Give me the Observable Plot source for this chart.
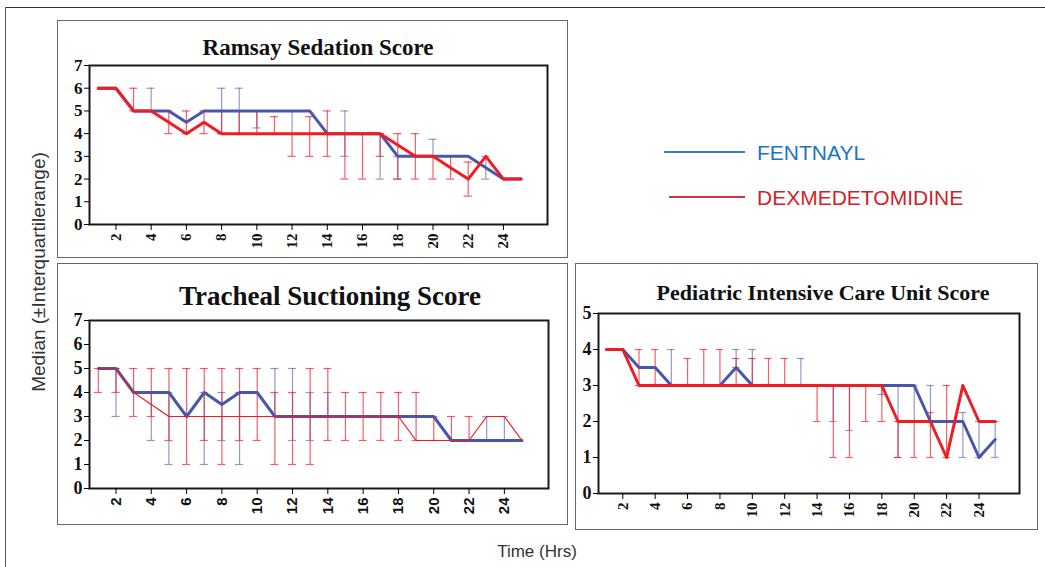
<!DOCTYPE html>
<html>
<head>
<meta charset="utf-8">
<script src="https://cdn.jsdelivr.net/npm/d3@7"></script>
<script src="https://cdn.jsdelivr.net/npm/@observablehq/plot@0.6"></script>
<style>
  html, body { margin: 0; padding: 0; background: #fff; }
  #root { position: relative; width: 1045px; height: 567px; overflow: hidden; background: #fff; }
  .abs { position: absolute; }
  .box { position: absolute; border: 1px solid #666; box-sizing: border-box; }
  .title { position: absolute; font-family: "Liberation Serif", "Times New Roman", serif; font-weight: bold; color: #111; white-space: nowrap; transform: translate(-50%,-50%); line-height: 1; }
  .lbl { position: absolute; font-family: "Liberation Sans", Arial, sans-serif; color: #333; white-space: nowrap; line-height: 1; }
</style>
</head>
<body>
<div id="root"></div>
<script>
// ---------------- data ----------------
const hours = [1,2,3,4,5,6,7,8,9,10,11,12,13,14,15,16,17,18,19,20,21,22,23,24,25];
const xTicks = [2,4,6,8,10,12,14,16,18,20,22,24];
const seriesNames = ["FENTNAYL", "DEXMEDETOMIDINE"];

// Ramsay Sedation Score
const ramsayFent   = [6,6,5,5,5,4.5,5,5,5,5,5,5,5,4,4,4,4,3,3,3,3,3,2.5,2,2];
const ramsayDex    = [6,6,5,5,4.5,4,4.5,4,4,4,4,4,4,4,4,4,4,3.5,3,3,2.5,2,3,2,2];
const ramsayFentLo = [null,null,null,5,null,null,null,4,4,4.25,null,4,null,null,3,null,2,2,null,3,null,null,2,null,null];
const ramsayFentHi = [null,null,null,6,null,null,null,6,6,5,null,5,null,null,5,null,4,3,null,3.75,null,null,3,null,null];
const ramsayDexLo  = [null,null,5,null,4,4,4,4,4,4,4,3,3,3,2,2,3,2,2,2,2,1.25,null,null,null];
const ramsayDexHi  = [null,null,6,null,5,5,5,5,5,5,4.75,4,4.75,5,4,4,4,4,4,3,3,2.75,null,null,null];

// Tracheal Suctioning Score
const trachFent   = [5,5,4,4,4,3,4,3.5,4,4,3,3,3,3,3,3,3,3,3,3,2,2,2,2,2];
const trachDex    = [5,5,4,3.5,3,3,3,3,3,3,3,3,3,3,3,3,3,3,2,2,2,2,3,3,2];
const trachFentLo = [null,3,null,2,1,null,1,2,1,null,3,2,2,3,null,null,null,null,null,null,null,null,2,2,null];
const trachFentHi = [null,5,null,4,4,null,4,4,4,null,5,5,4,4,null,null,null,null,null,null,null,null,3,3,null];
const trachDexLo  = [4,4,3,3,2,1,2,1,2,2,1,1,1,2,2,2,2,2,2,2,2,2,null,null,null];
const trachDexHi  = [5,5,5,5,5,5,5,5,5,5,4,4,5,5,4,4,4,4,4,3,3,3,null,null,null];

// Pediatric Intensive Care Unit Score
const picuFent   = [4,4,3.5,3.5,3,3,3,3,3.5,3,3,3,3,3,3,3,3,3,3,3,2,2,2,1,1.5];
const picuDex    = [4,4,3,3,3,3,3,3,3,3,3,3,3,3,3,3,3,3,2,2,2,1,3,2,2];
const picuFentLo = [null,null,null,null,3,null,null,null,3.5,3,null,null,3,null,2,1.75,null,2.75,1,2,2,null,1,1,1];
const picuFentHi = [null,null,null,null,4,null,null,null,4,4,null,null,3.75,null,3,3,null,3,3,3,3,null,2.25,2,2];
const picuDexLo  = [null,null,3,3,null,3,3,3,3,3,3,3,null,2,1,1,2,2,1,1,1,1,null,null,null];
const picuDexHi  = [null,null,4,4,null,3.75,4,4,3.75,3.75,3.75,3.75,null,3,3,3,3,3,2,2,2.25,3,null,null,null];

// ---------------- drawing ----------------
const BLUE = "#4a57a8", RED = "#ee1c25";
const root = document.getElementById("root");

function add(html) { root.insertAdjacentHTML("beforeend", html); }

function panel(cfg) {
  const rows = hours.map((h, i) => ({
    h, fent: cfg.fent[i], dex: cfg.dex[i],
    fLo: cfg.fLo[i], fHi: cfg.fHi[i], dLo: cfg.dLo[i], dHi: cfg.dHi[i]
  }));
  const fb = rows.filter(d => d.fLo != null);
  const db = rows.filter(d => d.dLo != null);
  const cw = 0.23;
  const serif = "Liberation Serif, Times New Roman, serif";
  const bars = (data, lo, hi, color, op) => [
    Plot.ruleX(data, {x: "h", y1: lo, y2: hi, stroke: color, strokeOpacity: op, strokeWidth: 1.2}),
    Plot.ruleY(data, {y: lo, x1: d => d.h - cw, x2: d => d.h + cw, stroke: color, strokeOpacity: op, strokeWidth: 1.2}),
    Plot.ruleY(data, {y: hi, x1: d => d.h - cw, x2: d => d.h + cw, stroke: color, strokeOpacity: op, strokeWidth: 1.2})
  ];
  const p = Plot.plot({
    width: cfg.w, height: cfg.h,
    marginLeft: cfg.ml, marginRight: cfg.mr, marginTop: cfg.mt, marginBottom: cfg.mb,
    style: {background: "transparent", overflow: "visible"},
    x: {domain: [0.5, 26.5], label: null},
    y: {domain: [0, cfg.ymax], label: null},
    marks: [
      ...bars(fb, "fLo", "fHi", BLUE, 0.6),
      ...bars(db, "dLo", "dHi", RED, 0.7),
      Plot.line(rows, {x: "h", y: "fent", stroke: BLUE, strokeWidth: 3}),
      Plot.line(rows, {x: "h", y: "dex", stroke: RED, strokeWidth: cfg.dexW}),
      Plot.frame({stroke: "#1a1a1a", strokeWidth: 2}),
      Plot.axisY({ticks: d3.range(0, cfg.ymax + 1), tickSize: 5, tickPadding: 2, tickFormat: d3.format("d"),
        fontFamily: serif, fontWeight: "bold", fontSize: cfg.yfs, fill: "#111", label: null}),
      Plot.axisX({ticks: xTicks, tickSize: 6, tickPadding: 3, tickRotate: -90, tickFormat: d3.format("d"),
        fontFamily: cfg.xff, fontWeight: "bold", fontSize: cfg.xfs, fill: "#111", label: null})
    ]
  });
  p.style.position = "absolute";
  p.style.left = cfg.left + "px";
  p.style.top = cfg.top + "px";
  root.appendChild(p);
}

// outer frame lines
add('<div class="abs" style="left:5px;top:7px;width:1040px;height:0;border-top:1.5px solid #333"></div>');
add('<div class="abs" style="left:5px;top:7px;width:0;height:560px;border-left:1.5px solid #555"></div>');

// panel boxes
add('<div class="box" style="left:57px;top:20px;width:511px;height:238px"></div>');
add('<div class="box" style="left:57px;top:263px;width:511px;height:262px"></div>');
add('<div class="box" style="left:575px;top:263px;width:463px;height:267px"></div>');

// titles
add('<div class="title" style="left:318px;top:47px;font-size:23px">Ramsay Sedation Score</div>');
add('<div class="title" style="left:330px;top:296px;font-size:27px">Tracheal Suctioning Score</div>');
add('<div class="title" style="left:823px;top:293px;font-size:22px">Pediatric Intensive Care Unit Score</div>');

panel({fent: ramsayFent, dex: ramsayDex, fLo: ramsayFentLo, fHi: ramsayFentHi, dLo: ramsayDexLo, dHi: ramsayDexHi,
  ymax: 7, w: 511, h: 238, ml: 32, mr: 21, mt: 45, mb: 34, left: 57, top: 20, dexW: 3,
  yfs: "17px", xff: "Liberation Serif, Times New Roman, serif", xfs: "15px"});
panel({fent: trachFent, dex: trachDex, fLo: trachFentLo, fHi: trachFentHi, dLo: trachDexLo, dHi: trachDexHi,
  ymax: 7, w: 511, h: 262, ml: 32, mr: 20, mt: 57, mb: 37, left: 57, top: 263, dexW: 1.2,
  yfs: "18px", xff: "Liberation Sans, Arial, sans-serif", xfs: "15px"});
panel({fent: picuFent, dex: picuDex, fLo: picuFentLo, fHi: picuFentHi, dLo: picuDexLo, dHi: picuDexHi,
  ymax: 5, w: 463, h: 267, ml: 23, mr: 19, mt: 50, mb: 37, left: 575, top: 263, dexW: 3,
  yfs: "18px", xff: "Liberation Serif, Times New Roman, serif", xfs: "15px"});

// legend
add('<div class="abs" style="left:664px;top:151px;width:81px;height:0;border-top:2px solid #3b7bc4"></div>');
add('<div class="lbl" style="left:757px;top:142px;font-size:21px;color:#1c74c2">' + seriesNames[0] + '</div>');
add('<div class="abs" style="left:669px;top:196px;width:76px;height:0;border-top:2px solid #c9363b"></div>');
add('<div class="lbl" style="left:757px;top:187px;font-size:21px;color:#d21f2a">' + seriesNames[1] + '</div>');

// axis labels
add('<div class="lbl" style="left:38px;top:272px;font-size:19px;transform:translate(-50%,-50%) rotate(-90deg)">Median (±Interquartilerange)</div>');
add('<div class="lbl" style="left:537px;top:551px;font-size:17px;transform:translate(-50%,-50%)">Time (Hrs)</div>');
</script>
</body>
</html>
